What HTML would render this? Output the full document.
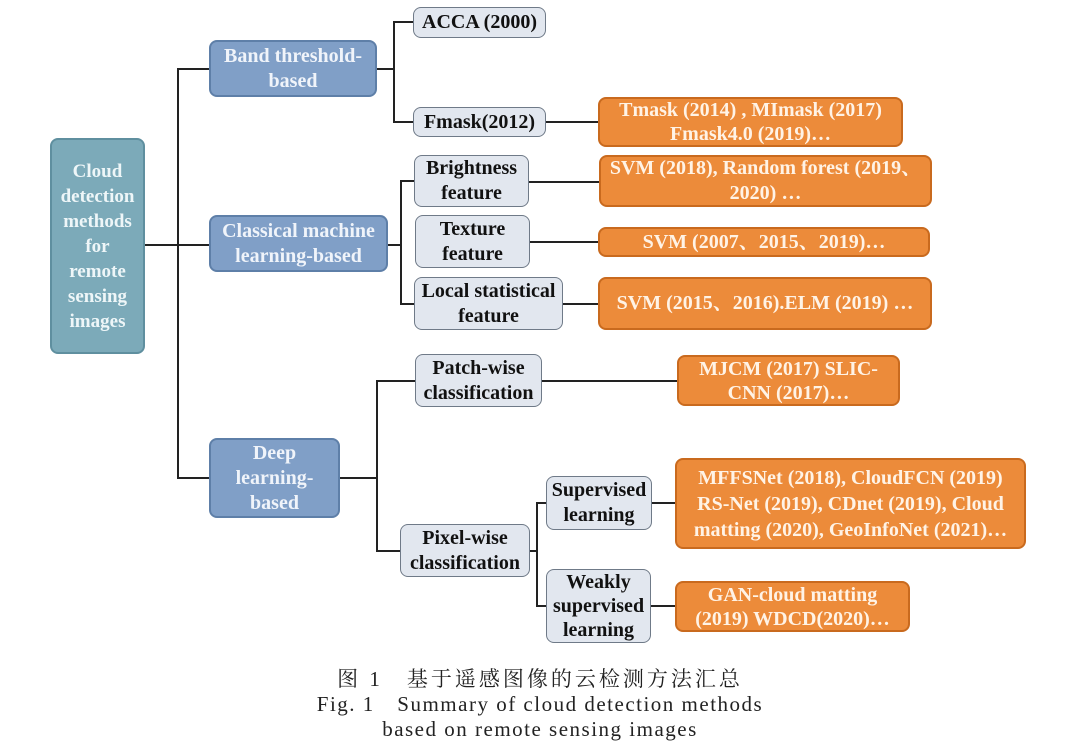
<!DOCTYPE html>
<html><head><meta charset="utf-8"><style>
body{margin:0;width:1080px;height:743px;background:#fff;position:relative;overflow:hidden;font-family:"Liberation Serif","Noto Serif CJK SC",serif}
.b{position:absolute;box-sizing:border-box;border-radius:8px;display:flex;align-items:center;justify-content:center;text-align:center;font-weight:bold;font-size:20px;line-height:25px;white-space:nowrap}
.r{background:#7caab9;border:2px solid #5f8f9f;color:#eef6f8;font-size:19px}
.m{background:#809fc7;border:2px solid #5e7fa8;color:#f0f4fa}
.g{background:#e2e7ef;border:1.5px solid #6f7a88;color:#111}
.o{background:#ec8b3a;border:2px solid #c96a1e;color:#fff3e6}
.l{position:absolute;background:#222}
.c{position:absolute;left:0;width:1080px;text-align:center;font-size:21px;color:#222;line-height:25px}
</style></head><body>
<div class="l" style="left:145px;top:244px;width:64px;height:2px"></div>
<div class="l" style="left:177px;top:69px;width:2px;height:410px"></div>
<div class="l" style="left:177px;top:68px;width:32px;height:2px"></div>
<div class="l" style="left:177px;top:477px;width:32px;height:2px"></div>
<div class="l" style="left:377px;top:68px;width:17px;height:2px"></div>
<div class="l" style="left:393px;top:22px;width:2px;height:101px"></div>
<div class="l" style="left:393px;top:21px;width:20px;height:2px"></div>
<div class="l" style="left:393px;top:121px;width:20px;height:2px"></div>
<div class="l" style="left:546px;top:121px;width:52px;height:2px"></div>
<div class="l" style="left:388px;top:244px;width:13px;height:2px"></div>
<div class="l" style="left:400px;top:181px;width:2px;height:124px"></div>
<div class="l" style="left:400px;top:180px;width:14px;height:2px"></div>
<div class="l" style="left:400px;top:303px;width:14px;height:2px"></div>
<div class="l" style="left:529px;top:181px;width:70px;height:2px"></div>
<div class="l" style="left:530px;top:241px;width:68px;height:2px"></div>
<div class="l" style="left:563px;top:303px;width:35px;height:2px"></div>
<div class="l" style="left:340px;top:477px;width:38px;height:2px"></div>
<div class="l" style="left:376px;top:380px;width:2px;height:172px"></div>
<div class="l" style="left:376px;top:380px;width:39px;height:2px"></div>
<div class="l" style="left:376px;top:550px;width:24px;height:2px"></div>
<div class="l" style="left:542px;top:380px;width:135px;height:2px"></div>
<div class="l" style="left:530px;top:550px;width:8px;height:2px"></div>
<div class="l" style="left:536px;top:503px;width:2px;height:104px"></div>
<div class="l" style="left:536px;top:502px;width:10px;height:2px"></div>
<div class="l" style="left:536px;top:605px;width:10px;height:2px"></div>
<div class="l" style="left:652px;top:502px;width:23px;height:2px"></div>
<div class="l" style="left:651px;top:605px;width:24px;height:2px"></div>
<div class="b r" style="left:50px;top:138px;width:95px;height:216px;line-height:25px">Cloud<br>detection<br>methods<br>for<br>remote<br>sensing<br>images</div>
<div class="b m" style="left:209px;top:40px;width:168px;height:57px">Band threshold-<br>based</div>
<div class="b m" style="left:209px;top:215px;width:179px;height:57px">Classical machine<br>learning-based</div>
<div class="b m" style="left:209px;top:438px;width:131px;height:80px">Deep<br>learning-<br>based</div>
<div class="b g" style="left:413px;top:7px;width:133px;height:31px">ACCA (2000)</div>
<div class="b g" style="left:413px;top:107px;width:133px;height:30px">Fmask(2012)</div>
<div class="b g" style="left:414px;top:155px;width:115px;height:52px">Brightness<br>feature</div>
<div class="b g" style="left:415px;top:215px;width:115px;height:53px">Texture<br>feature</div>
<div class="b g" style="left:414px;top:277px;width:149px;height:53px">Local statistical<br>feature</div>
<div class="b g" style="left:415px;top:354px;width:127px;height:53px">Patch-wise<br>classification</div>
<div class="b g" style="left:400px;top:524px;width:130px;height:53px">Pixel-wise<br>classification</div>
<div class="b g" style="left:546px;top:476px;width:106px;height:54px">Supervised<br>learning</div>
<div class="b g" style="left:546px;top:569px;width:105px;height:74px;line-height:24px">Weakly<br>supervised<br>learning</div>
<div class="b o" style="left:598px;top:97px;width:305px;height:50px;line-height:24px">Tmask (2014) , MImask (2017)<br>Fmask4.0 (2019)…</div>
<div class="b o" style="left:599px;top:155px;width:333px;height:52px">SVM (2018), Random forest (2019、<br>2020) …</div>
<div class="b o" style="left:598px;top:227px;width:332px;height:30px">SVM (2007、2015、2019)…</div>
<div class="b o" style="left:598px;top:277px;width:334px;height:53px">SVM (2015、2016).ELM (2019) …</div>
<div class="b o" style="left:677px;top:355px;width:223px;height:51px;line-height:24px">MJCM (2017) SLIC-<br>CNN (2017)…</div>
<div class="b o" style="left:675px;top:458px;width:351px;height:91px;line-height:26px">MFFSNet (2018), CloudFCN (2019)<br>RS-Net (2019), CDnet (2019), Cloud<br>matting (2020), GeoInfoNet (2021)…</div>
<div class="b o" style="left:675px;top:581px;width:235px;height:51px;line-height:24px">GAN-cloud matting<br>(2019) WDCD(2020)…</div>
<div class="c" style="top:667px;letter-spacing:3px">图 1　基于遥感图像的云检测方法汇总</div>
<div class="c" style="top:692px;letter-spacing:1.5px">Fig. 1　Summary of cloud detection methods</div>
<div class="c" style="top:717px;letter-spacing:1.5px">based on remote sensing images</div>
</body></html>
